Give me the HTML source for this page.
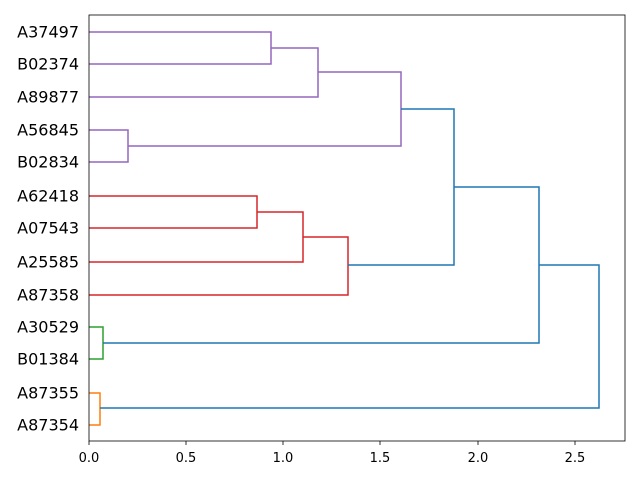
<!DOCTYPE html>
<html><head><meta charset="utf-8"><style>body{margin:0;background:#fff}</style></head><body>
<svg width="640" height="480" xmlns="http://www.w3.org/2000/svg" font-family="DejaVu Sans, Liberation Sans, sans-serif">
<rect width="640" height="480" fill="#fff"/>
<g fill="none" stroke-width="1.5">
<g stroke="#9467bd">
<path d="M89,32H271V64H89"/>
<path d="M271,48H318V97H89"/>
<path d="M89,130H128V162H89"/>
<path d="M318,72H401V146H128"/>
</g>
<g stroke="#d62728">
<path d="M89,196H257V228H89"/>
<path d="M257,212H303V262H89"/>
<path d="M303,237H348V295H89"/>
</g>
<path stroke="#2ca02c" d="M89,327H103V359H89"/>
<path stroke="#ff7f0e" d="M89,393H100V425H89"/>
<g stroke="#1f77b4">
<path d="M401,109H454V265H348"/>
<path d="M454,187H539V343H103"/>
<path d="M539,265H599V408H100"/>
</g>
</g>
<rect x="89" y="15" width="536" height="426" fill="none" stroke="#000" stroke-width="0.8"/>
<g stroke="#000" stroke-width="0.8">
<path d="M89,441v4M186,441v4M283,441v4M380,441v4M478,441v4M575,441v4"/>
</g>
<g font-size="13" text-anchor="middle" fill="#000">
<text x="89" y="462">0.0</text><text x="186" y="462">0.5</text><text x="283" y="462">1.0</text><text x="380" y="462">1.5</text><text x="478" y="462">2.0</text><text x="575" y="462">2.5</text>
</g>
<g font-size="16" text-anchor="end" fill="#000" dominant-baseline="central">
<text x="79" y="32">A37497</text><text x="79" y="64">B02374</text><text x="79" y="97">A89877</text><text x="79" y="130">A56845</text><text x="79" y="162">B02834</text><text x="79" y="196">A62418</text><text x="79" y="228">A07543</text><text x="79" y="262">A25585</text><text x="79" y="295">A87358</text><text x="79" y="327">A30529</text><text x="79" y="359">B01384</text><text x="79" y="393">A87355</text><text x="79" y="425">A87354</text>
</g>
</svg>
</body></html>
